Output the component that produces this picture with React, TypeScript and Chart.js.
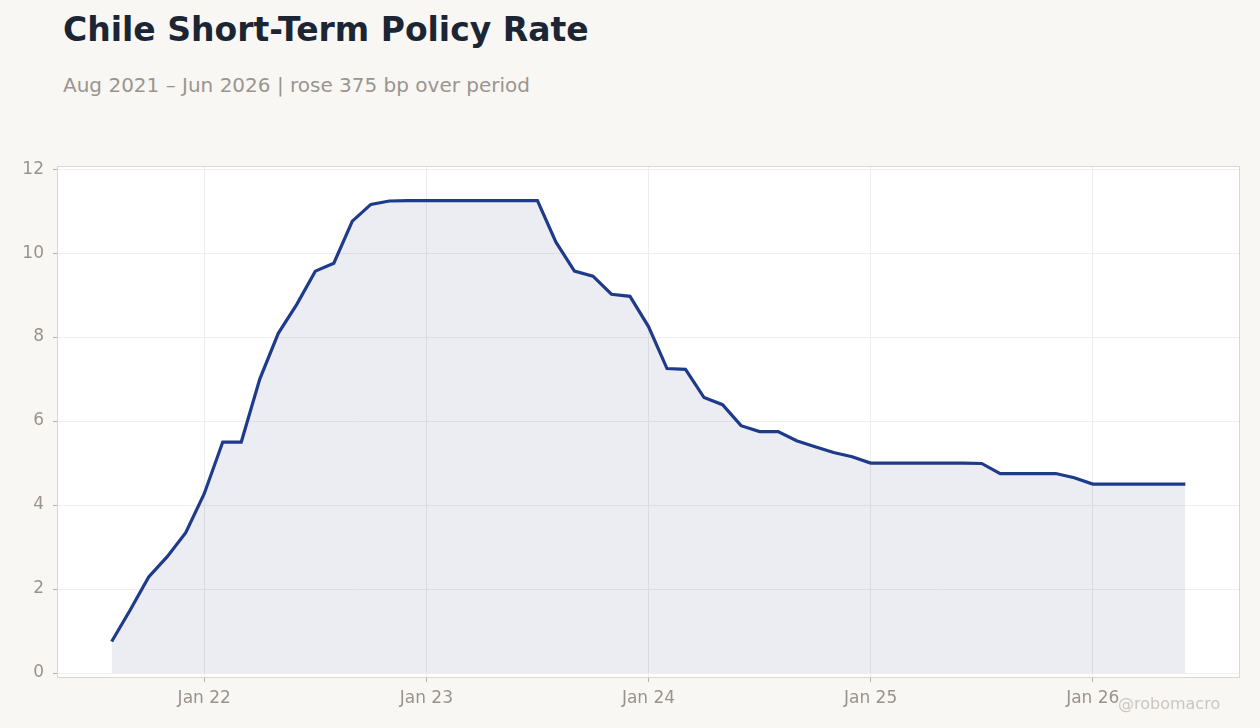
import React, { useEffect, useRef } from 'react';
import Chart from 'chart.js/auto';

// monthly observations, Aug 2021 .. Jun 2026
const months = [
  'Aug 21', 'Sep 21', 'Oct 21', 'Nov 21', 'Dec 21',
  'Jan 22', 'Feb 22', 'Mar 22', 'Apr 22', 'May 22', 'Jun 22', 'Jul 22', 'Aug 22', 'Sep 22', 'Oct 22', 'Nov 22', 'Dec 22',
  'Jan 23', 'Feb 23', 'Mar 23', 'Apr 23', 'May 23', 'Jun 23', 'Jul 23', 'Aug 23', 'Sep 23', 'Oct 23', 'Nov 23', 'Dec 23',
  'Jan 24', 'Feb 24', 'Mar 24', 'Apr 24', 'May 24', 'Jun 24', 'Jul 24', 'Aug 24', 'Sep 24', 'Oct 24', 'Nov 24', 'Dec 24',
  'Jan 25', 'Feb 25', 'Mar 25', 'Apr 25', 'May 25', 'Jun 25', 'Jul 25', 'Aug 25', 'Sep 25', 'Oct 25', 'Nov 25', 'Dec 25',
  'Jan 26', 'Feb 26', 'Mar 26', 'Apr 26', 'May 26', 'Jun 26',
];

const policyRate = [
  0.75, 1.5, 2.29, 2.77, 3.34,
  4.27, 5.5, 5.5, 7.0, 8.09, 8.78, 9.57, 9.76, 10.76, 11.16, 11.24, 11.25,
  11.25, 11.25, 11.25, 11.25, 11.25, 11.25, 11.25, 10.26, 9.57, 9.45, 9.02, 8.97,
  8.25, 7.25, 7.23, 6.56, 6.39, 5.89, 5.75, 5.75, 5.53, 5.39, 5.25, 5.15,
  5.0, 5.0, 5.0, 5.0, 5.0, 5.0, 4.99, 4.75, 4.75, 4.75, 4.75, 4.65,
  4.5, 4.5, 4.5, 4.5, 4.5, 4.5,
];

const xTickLabels = ['Jan 22', 'Jan 23', 'Jan 24', 'Jan 25', 'Jan 26'];
const yTicks = [0, 2, 4, 6, 8, 10, 12];

const FONT = '"DejaVu Sans", sans-serif';
const BG = '#f9f7f4';

// white plot face + frame round the chart area
const framePlugin = {
  id: 'frame',
  beforeDraw(chart: any) {
    const { ctx, chartArea: a } = chart;
    ctx.save();
    ctx.fillStyle = '#ffffff';
    ctx.fillRect(a.left, a.top, a.right - a.left, a.bottom - a.top);
    ctx.restore();
  },
  afterDraw(chart: any) {
    const { ctx, chartArea: a } = chart;
    ctx.save();
    ctx.strokeStyle = '#ddd6cd';
    ctx.lineWidth = 1;
    ctx.strokeRect(Math.round(a.left) - 0.5, Math.round(a.top) - 0.5, Math.round(a.right - a.left) + 1, Math.round(a.bottom - a.top) + 1);
    ctx.restore();
  },
};

export default function App() {
  const chartRef = useRef<HTMLCanvasElement>(null);

  useEffect(() => {
    if (!chartRef.current) return;
    const ctx = chartRef.current.getContext('2d');
    if (!ctx) return;

    const points = policyRate.map((v, i) => ({ x: i, y: v }));

    const chart = new Chart(ctx, {
      type: 'line',
      data: {
        datasets: [{
          label: 'Policy rate',
          data: points,
          borderColor: '#1e3a8a',
          borderWidth: 3.2,
          backgroundColor: 'rgba(45, 55, 110, 0.09)',
          fill: 'origin',
          pointRadius: 0,
          tension: 0,
        }]
      },
      options: {
        responsive: true,
        maintainAspectRatio: false,
        animation: false,
        layout: {
          padding: { top: 167, right: 21, bottom: 0, left: 0 }
        },
        plugins: {
          legend: { display: false },
          tooltip: { enabled: false },
        },
        scales: {
          x: {
            type: 'linear',
            min: -2.9,
            max: 60.9,
            afterBuildTicks: (scale: any) => {
              scale.ticks = xTickLabels.map(l => ({ value: months.indexOf(l) }));
            },
            afterFit: (scale: any) => { scale.height = 51; },
            grid: {
              color: '#ececec',
              tickColor: '#b8b2aa',
              tickLength: 5,
            },
            border: { display: false },
            ticks: {
              color: '#99938b',
              font: { family: FONT, size: 17 },
              padding: 6,
              maxRotation: 0,
              callback: (v: any) => months[v as number],
            }
          },
          y: {
            min: -0.095,
            max: 12.05,
            afterBuildTicks: (scale: any) => {
              scale.ticks = yTicks.map(v => ({ value: v }));
            },
            afterFit: (scale: any) => { scale.width = 58; },
            grid: {
              color: '#efefef',
              tickColor: '#b8b2aa',
              tickLength: 5,
            },
            border: { display: false },
            ticks: {
              color: '#99938b',
              font: { family: FONT, size: 17 },
              padding: 9,
            }
          }
        }
      },
      plugins: [framePlugin],
    });

    return () => {
      chart.destroy();
    };
  }, []);

  return (
    <div style={{ position: 'fixed', left: 0, top: 0, width: 1260, height: 728, background: BG, fontFamily: FONT }}>
      <div style={{ position: 'absolute', left: 63, top: 10, fontSize: 33, fontWeight: 'bold', color: '#1c2533', whiteSpace: 'nowrap' }}>
        Chile Short-Term Policy Rate
      </div>
      <div style={{ position: 'absolute', left: 63, top: 73, fontSize: 20, color: '#9a958f', whiteSpace: 'nowrap' }}>
        Aug 2021 – Jun 2026 | rose 375 bp over period
      </div>
      <div style={{ position: 'absolute', left: 0, top: 0, width: 1260, height: 728 }}>
        <canvas ref={chartRef} />
      </div>
      <div style={{ position: 'absolute', left: 1118, top: 694, fontSize: 16, color: '#cbc6c0', whiteSpace: 'nowrap' }}>
        @robomacro
      </div>
    </div>
  );
}
